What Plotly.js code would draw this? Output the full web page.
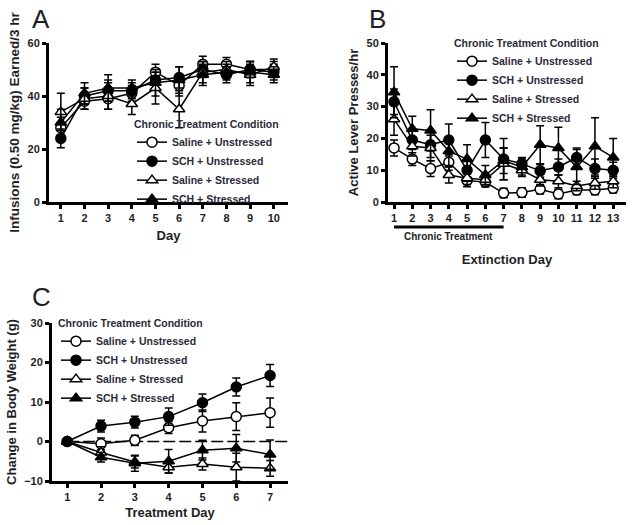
<!DOCTYPE html>
<html>
<head>
<meta charset="utf-8">
<script src="https://cdn.plot.ly/plotly-3.0.1.min.js"></script>
<style>html,body{margin:0;padding:0;background:#fff;}#chart{width:632px;height:525px;}</style>
</head>
<body>
<div id="chart"></div>
<script>
// ---------- Data ----------
const seriesNames = ["Saline + Unstressed", "SCH + Unstressed", "Saline + Stressed", "SCH + Stressed"];
const legendTitle = "Chronic Treatment Condition";

// Panel A: infusions earned per day
const daysA = [1, 2, 3, 4, 5, 6, 7, 8, 9, 10];
const aSalUn  = [28, 38, 39, 41, 49, 44, 52, 52, 50, 50];
const aSchUn  = [24, 40, 42, 42, 46, 47, 50, 48, 50, 49];
const aSalSt  = [34, 39, 40, 37, 43, 35, 49, 50, 48, 51];
const aSchSt  = [30, 41, 43, 43, 45, 46, 48, 49, 49, 48];
const aSalUnE = [4, 3, 4, 3, 3, 4, 3, 2.5, 3, 3];
const aSchUnE = [3.5, 3, 4, 3, 3, 4, 3, 3, 3, 3];
const aSalStE = [7, 4, 5, 4, 6, 7, 4, 3, 4, 3];
const aSchStE = [5, 4, 5, 3, 5, 5, 4, 3, 4, 3];

// Panel B: active lever presses per hour over extinction days
const daysB = [1, 2, 3, 4, 5, 6, 7, 8, 9, 10, 11, 12, 13];
const bSalUn  = [17, 13.5, 10.5, 12.5, 6.8, 6.2, 2.8, 3, 4, 2.5, 3.8, 3.8, 4.3];
const bSchUn  = [31.5, 19.5, 18, 19.5, 10, 19.5, 13.5, 12, 9.8, 11, 14, 10.5, 10];
const bSalSt  = [26, 17.5, 17, 8.5, 7.5, 7, 12, 10, 7, 6.5, 5, 6, 6.5];
const bSchSt  = [34.5, 23, 22.5, 16, 13.5, 8.5, 13, 11, 18, 17, 11, 17.5, 14];
const bSalUnE = [2.5, 2, 2.5, 2.5, 2, 1.5, 1.5, 1.5, 1.5, 1.5, 1.5, 1.5, 1.5];
const bSchUnE = [4, 3, 4, 5, 3.5, 5.5, 6.5, 2, 2, 2.5, 3, 3, 2.5];
const bSalStE = [5, 3, 4, 2.5, 2, 2, 5, 2, 2, 2, 1.5, 2, 2];
const bSchStE = [8, 4, 6.5, 4.5, 4.5, 3, 4, 2.5, 6, 6.5, 5.5, 9, 6];

// Panel C: change in body weight per treatment day
const daysC = [1, 2, 3, 4, 5, 6, 7];
const cSalUn  = [0, -0.6, 0.3, 3.5, 5.2, 6.3, 7.3];
const cSchUn  = [0, 3.9, 4.9, 6.3, 9.8, 13.8, 16.7];
const cSalSt  = [0, -2.8, -5.2, -6.5, -5.7, -6.5, -6.8];
const cSchSt  = [0, -4, -5.5, -5, -2.2, -1.7, -3.3];
const cSalUnE = [0.5, 1.5, 1.3, 1.5, 2.8, 3.5, 3.7];
const cSchUnE = [0.5, 1.5, 1.5, 2.2, 2.2, 2.3, 2.8];
const cSalStE = [0.5, 1.5, 1.5, 1.5, 1.5, 3.5, 2];
const cSchStE = [0.5, 1.2, 2, 3, 2.5, 3.5, 3.7];

const chronicLabel = "Chronic Treatment";
const chronicSpan = [1, 7];

// ---------- Styles ----------
const FONT = "Liberation Sans, Arial, sans-serif";
const TXT = "#1e1e24";
const LEGTXT = "#2a2a38";
const styles = [
  {symbol: "circle", fill: "#ffffff"},
  {symbol: "circle", fill: "#000000"},
  {symbol: "triangle-up", fill: "#ffffff"},
  {symbol: "triangle-up", fill: "#000000"}
];

function mk(x, y, e, i, xa, ya, leg) {
  return {
    x: x, y: y, type: "scatter", mode: "lines+markers",
    name: seriesNames[i], legend: leg, xaxis: xa, yaxis: ya,
    line: {color: "#000", width: 1.5},
    marker: {symbol: styles[i].symbol, size: 10, color: styles[i].fill, line: {color: "#000", width: 1.5}},
    error_y: {type: "data", array: e, visible: true, color: "#000", thickness: 1.5, width: 4}
  };
}

const traces = [
  mk(daysA, aSalUn, aSalUnE, 0, "x", "y", "legend"),
  mk(daysA, aSchUn, aSchUnE, 1, "x", "y", "legend"),
  mk(daysA, aSalSt, aSalStE, 2, "x", "y", "legend"),
  mk(daysA, aSchSt, aSchStE, 3, "x", "y", "legend"),
  mk(daysB, bSalUn, bSalUnE, 0, "x2", "y2", "legend2"),
  mk(daysB, bSchUn, bSchUnE, 1, "x2", "y2", "legend2"),
  mk(daysB, bSalSt, bSalStE, 2, "x2", "y2", "legend2"),
  mk(daysB, bSchSt, bSchStE, 3, "x2", "y2", "legend2"),
  mk(daysC, cSalUn, cSalUnE, 0, "x3", "y3", "legend3"),
  mk(daysC, cSchUn, cSchUnE, 1, "x3", "y3", "legend3"),
  mk(daysC, cSalSt, cSalStE, 2, "x3", "y3", "legend3"),
  mk(daysC, cSchSt, cSchStE, 3, "x3", "y3", "legend3")
];

const W = 632, H = 525;
const px = v => v / W;
const py = v => 1 - v / H;

function axis(domain, range, tickvals, titleText, standoff, anchor, titleSize) {
  return {
    domain: domain, range: range, anchor: anchor,
    tickmode: "array", tickvals: tickvals,
    showgrid: false, zeroline: false,
    showline: true, linecolor: "#000", linewidth: 3,
    ticks: "outside", ticklen: 4, tickwidth: 3, tickcolor: "#000",
    tickfont: {family: FONT, size: 11, color: TXT, weight: 700},
    title: {text: titleText, standoff: standoff, font: {family: FONT, size: titleSize, color: TXT, weight: 700}},
    automargin: false, fixedrange: true
  };
}

function legendCfg(x, y) {
  return {
    x: x, y: y, xanchor: "left", yanchor: "top",
    bgcolor: "rgba(0,0,0,0)", borderwidth: 0,
    font: {family: FONT, size: 10.5, color: LEGTXT, weight: 700},
    title: {text: legendTitle, font: {family: FONT, size: 10.5, color: LEGTXT, weight: 700}},
    itemwidth: 30, tracegroupgap: 0
  };
}

const layout = {
  width: W, height: H,
  margin: {l: 0, r: 0, t: 0, b: 0},
  paper_bgcolor: "#fff", plot_bgcolor: "rgba(0,0,0,0)",
  showlegend: true,
  xaxis:  axis([px(49), px(288)], [0.5, 10.6], daysA, "Day", 8, "y", 13),
  yaxis:  axis([py(202), py(43)], [0, 60], [0, 20, 40, 60], "Infusions (0.50 mg/kg) Earned/3 hr", 5, "x", 13.5),
  xaxis2: axis([px(388), px(626)], [0.67, 13.7], daysB, "Extinction Day", 32, "y2", 13),
  yaxis2: axis([py(202), py(43)], [0, 50], [0, 10, 20, 30, 40, 50], "Active Lever Presses/hr", 5, "x2", 13),
  xaxis3: axis([px(52), px(288)], [0.55, 7.53], daysC, "Treatment Day", 6, "y3", 13),
  yaxis3: axis([py(481), py(323)], [-10, 30], [-10, 0, 10, 20, 30], "Change in Body Weight (g)", 5, "x3", 13),
  legend:  legendCfg(px(132), py(114)),
  legend2: legendCfg(px(452), py(33)),
  legend3: legendCfg(px(56), py(313)),
  shapes: [
    {type: "line", xref: "x3", yref: "y3", x0: 1, x1: 7.53, y0: 0, y1: 0,
     line: {color: "#000", width: 1.5, dash: "12px,4px"}, layer: "below"},
    {type: "line", xref: "x2", yref: "paper", x0: chronicSpan[0], x1: chronicSpan[1], y0: py(227), y1: py(227),
     line: {color: "#000", width: 3}}
  ],
  annotations: [
    {text: "A", xref: "paper", yref: "paper", x: px(41), y: py(19), xanchor: "center", yanchor: "middle", showarrow: false,
     font: {family: FONT, size: 26, color: TXT}},
    {text: "B", xref: "paper", yref: "paper", x: px(377), y: py(19), xanchor: "center", yanchor: "middle", showarrow: false,
     font: {family: FONT, size: 26, color: TXT}},
    {text: "C", xref: "paper", yref: "paper", x: px(41), y: py(297), xanchor: "center", yanchor: "middle", showarrow: false,
     font: {family: FONT, size: 26, color: TXT}},
    {text: chronicLabel, xref: "x2", yref: "paper", x: (chronicSpan[0] + chronicSpan[1]) / 2, y: py(236), xanchor: "center", yanchor: "middle", showarrow: false,
     font: {family: FONT, size: 10, color: TXT, weight: 700}}
  ]
};

Plotly.newPlot("chart", traces, layout, {displayModeBar: false, staticPlot: true});
</script>
</body>
</html>
